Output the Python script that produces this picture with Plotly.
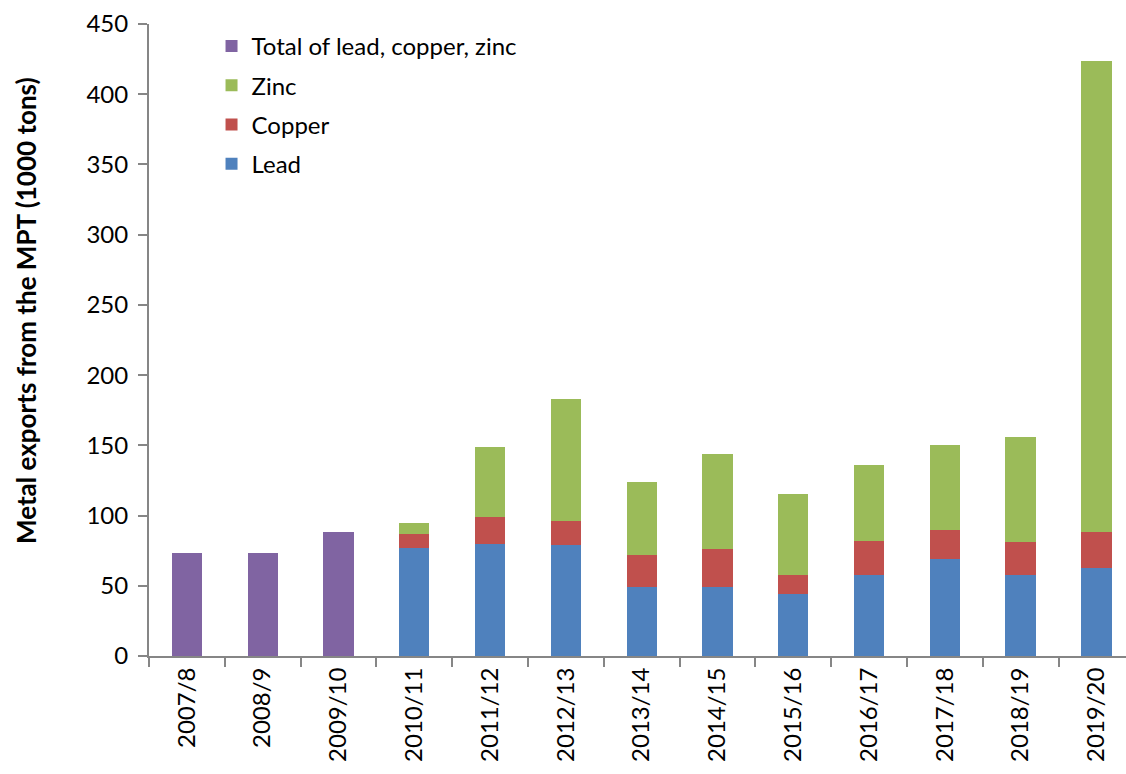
import plotly.graph_objects as go

# Fiscal years shown on the category axis
years = ["2007/8", "2008/9", "2009/10", "2010/11", "2011/12", "2012/13", "2013/14",
         "2014/15", "2015/16", "2016/17", "2017/18", "2018/19", "2019/20"]

# Metal exports, thousand tons (no breakdown before 2010/11, only the total)
total = [73, 73, 88, None, None, None, None, None, None, None, None, None, None]
lead = [None, None, None, 77, 80, 79, 49, 49, 44, 58, 69, 58, 63]
copper = [None, None, None, 10, 19, 17, 23, 27, 14, 24, 21, 23, 25]
zinc = [None, None, None, 8, 50, 87, 52, 68, 57, 54, 60, 75, 336]

y_ticks = [0, 50, 100, 150, 200, 250, 300, 350, 400, 450]

FONT = "Lato"
AXIS_GREY = "#868686"

# (name, values, colour, position in the legend)
series = [
    ("Lead", lead, "#4F81BD", 4),
    ("Copper", copper, "#C0504D", 3),
    ("Zinc", zinc, "#9BBB59", 2),
    ("Total of lead, copper, zinc", total, "#8064A2", 1),
]

fig = go.Figure()
for name, vals, color, rank in series:
    fig.add_trace(go.Bar(
        x=years, y=vals, name=name, legendgroup=name, legendrank=rank,
        marker=dict(color=color, line=dict(width=0)),
    ))

fig.update_layout(
    width=1126, height=774,
    margin=dict(l=149, r=0, t=24, b=118),
    paper_bgcolor="white", plot_bgcolor="white",
    barmode="stack", bargap=0.6,
    font=dict(family=FONT, size=24, color="#000000"),
    showlegend=True,
    legend=dict(
        traceorder="grouped",
        x=0.064, y=1.0, xanchor="left", yanchor="top",
        bgcolor="rgba(0,0,0,0)",
        font=dict(family=FONT, size=24, color="#000000"),
        itemclick=False, itemdoubleclick=False,
        tracegroupgap=5,
    ),
)

fig.update_xaxes(
    type="category", range=[-0.5, 12.39],
    tickangle=-90, tickson="boundaries",
    ticks="outside", ticklen=9, tickwidth=2, tickcolor=AXIS_GREY,
    showline=True, linecolor=AXIS_GREY, linewidth=2,
    showgrid=False, zeroline=False,
    tickfont=dict(family=FONT, size=24, color="#000000"),
)
fig.update_yaxes(
    range=[0, 450], tickvals=y_ticks,
    ticks="outside", ticklen=9, tickwidth=2, tickcolor=AXIS_GREY,
    showline=True, linecolor=AXIS_GREY, linewidth=2,
    showgrid=False, zeroline=False,
    ticklabelstandoff=5,
    tickfont=dict(family=FONT, size=24, color="#000000"),
)

fig.add_annotation(
    text="<b>Metal exports from the MPT (1000 tons)</b>",
    xref="paper", yref="paper",
    x=(26 - 149) / 977, y=1 - (311 - 24) / 632,
    xanchor="center", yanchor="middle",
    textangle=-90, showarrow=False,
    font=dict(family=FONT, size=26, color="#000000"),
)

fig.write_html("out.html")
